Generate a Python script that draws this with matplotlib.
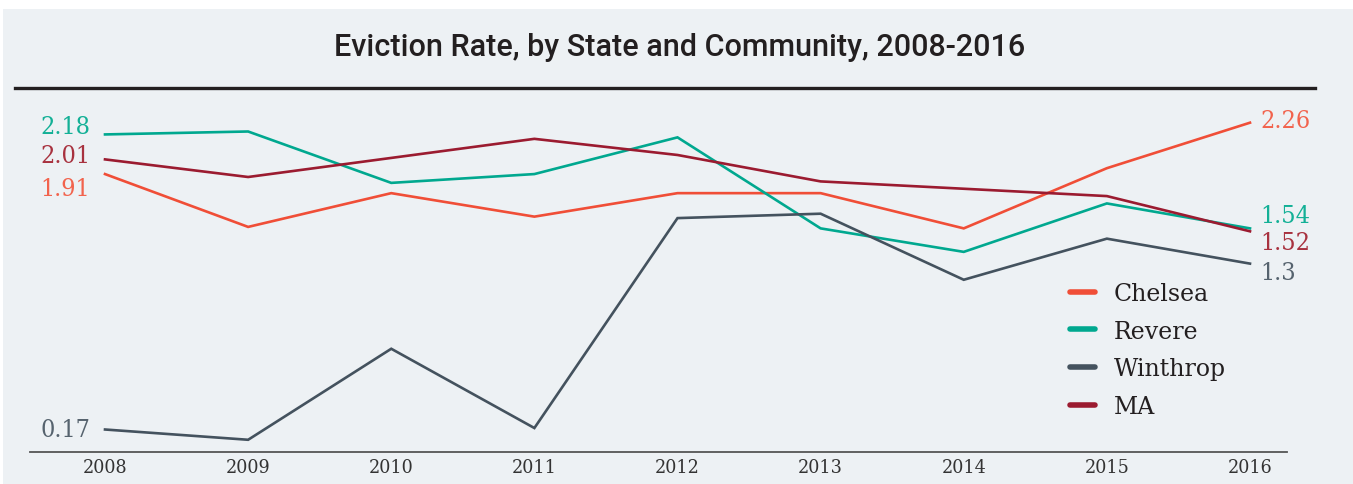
import matplotlib
matplotlib.use("Agg")
import matplotlib.pyplot as plt
from matplotlib.lines import Line2D
from matplotlib.patches import Rectangle

# ---- data ----
years = [2008, 2009, 2010, 2011, 2012, 2013, 2014, 2015, 2016]
series_names = ["Chelsea", "Revere", "Winthrop", "MA"]
chelsea = [1.91, 1.55, 1.78, 1.62, 1.78, 1.78, 1.54, 1.95, 2.26]
revere = [2.18, 2.20, 1.85, 1.91, 2.16, 1.54, 1.38, 1.71, 1.54]
winthrop = [0.17, 0.10, 0.72, 0.18, 1.61, 1.64, 1.19, 1.47, 1.30]
ma = [2.01, 1.89, 2.02, 2.15, 2.04, 1.86, 1.81, 1.76, 1.52]
title = "Eviction Rate, by State and Community, 2008-2016"

# ---- style ----
colors = ["#f04e37", "#00a88f", "#44525e", "#9b1b30"]
label_colors = ["#f2634d", "#13b096", "#56636e", "#a8323f"]
# label offsets in pixels (start label dy, end label dy)
start_dy = [-14, 8, 0, 4]
end_dy = [2, 13, -9, -11]

W, H = 1353, 485
fig = plt.figure(figsize=(W / 100, H / 100), dpi=100)
fig.patch.set_facecolor("white")
fig.add_artist(Rectangle((3 / W, 0), 1 - 3 / W, 1 - 10 / H, transform=fig.transFigure,
                         facecolor="#edf1f4", edgecolor="none", zorder=0))

fig.text(680 / W, 1 - 47 / H, title, ha="center", va="center", fontsize=22,
         family=["Roboto", "DejaVu Sans"], fontweight="medium", color="#231f20")
fig.add_artist(Line2D([15 / W, 1315 / W], [1 - 89 / H] * 2, transform=fig.transFigure,
                      lw=2.4, color="#231f20"))

ax = fig.add_axes([30 / W, (H - 453) / H, 1257 / W, (453 - 100) / H])
ax.set_facecolor("none")
ppy = (1250 - 105) / 8.0
ax.set_xlim(2008 - 75 / ppy, 2016 + 37 / ppy)
ybot = 0.17 - 22.5 / 146.8
ax.set_ylim(ybot, ybot + 353 / 146.8)

values = [chelsea, revere, winthrop, ma]
for name, vals, c, lc, sdy, edy in zip(series_names, values, colors, label_colors, start_dy, end_dy):
    ax.plot(years, vals, color=c, lw=1.9, label=name, solid_joinstyle="miter")
    ax.annotate(f"{vals[0]:g}", (years[0], vals[0]), xytext=(-15, sdy), textcoords="offset pixels",
                ha="right", va="center", fontsize=18, family="DejaVu Serif",
                fontstretch="condensed", color=lc)
    ax.annotate(f"{vals[-1]:g}", (years[-1], vals[-1]), xytext=(10, edy), textcoords="offset pixels",
                ha="left", va="center", fontsize=18, family="DejaVu Serif",
                fontstretch="condensed", color=lc)

for s in ["top", "right", "left"]:
    ax.spines[s].set_visible(False)
ax.spines["bottom"].set_color("#555555")
ax.spines["bottom"].set_linewidth(1.3)
ax.set_yticks([])
ax.set_xticks(years)
ax.set_xticklabels([str(y) for y in years], fontsize=14, family="DejaVu Serif",
                   fontstretch="condensed", color="#333333")
ax.tick_params(axis="x", length=0, pad=4)

leg = ax.legend(loc="upper left", bbox_to_anchor=(1070 / W, 1 - 283 / H),
                bbox_transform=fig.transFigure, frameon=False, borderpad=0, borderaxespad=0,
                handlelength=1.05, handletextpad=0.8, labelspacing=0.62,
                prop={"family": "DejaVu Serif", "size": 17})
for h in leg.legend_handles:
    h.set_linewidth(4)
    h.set_solid_capstyle("round")
for t in leg.get_texts():
    t.set_color("#231f20")

fig.savefig("out.png", dpi=100, facecolor=fig.get_facecolor())
